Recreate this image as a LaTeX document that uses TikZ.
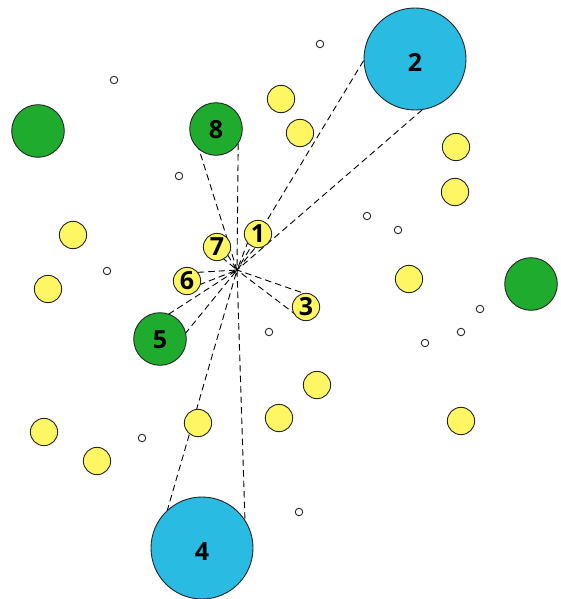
\documentclass[tikz,border=0pt]{standalone}
\usepackage{fontspec}
\setsansfont{Open Sans}
\usepackage{xcolor}
\usepackage{tikz}
\usetikzlibrary{calc,backgrounds}

\definecolor{bubbleblue}{RGB}{42,187,226}
\definecolor{bubblegreen}{RGB}{31,171,46}
\definecolor{bubbleyellow}{RGB}{255,246,100}

\begin{document}
\begin{tikzpicture}[x=1pt,y=-1pt,
    dot/.style={circle,draw=black!85,line width=0.9pt,inner sep=0pt,
        font=\sffamily\bfseries\fontsize{25}{25}\selectfont},
    big/.style={dot,fill=bubbleblue,minimum size=102pt,text height=25pt},
    mid/.style={dot,fill=bubblegreen,minimum size=52.6pt,text height=20pt},
    small/.style={dot,fill=bubbleyellow,minimum size=27.3pt},
    tiny/.style={dot,fill=white,minimum size=7.5pt},
    spoke/.style={dash pattern=on 6.5pt off 4pt,line width=0.9pt}]
    \useasboundingbox (0,0) rectangle (561,599);

    % numbered bubbles
    \node[small] (n1) at (258,234) {1};
    \node[big]   (n2) at (415,59) {2};
    \node[small] (n3) at (306,307) {3};
    \node[big]   (n4) at (202,548) {4};
    \node[mid]   (n5) at (160,339) {5};
    \node[small] (n6) at (187,281) {6};
    \node[small] (n7) at (217,247) {7};
    \node[mid]   (n8) at (216,129) {8};
    \coordinate (hub) at (237,270);

    % other bubbles
    \node[mid] (g1) at (38,131) {};
    \node[mid] (g2) at (531,284) {};

    \node[small] (y1) at (281,99) {};
    \node[small] (y2) at (300,133) {};
    \node[small] (y3) at (456,147) {};
    \node[small] (y4) at (455,192) {};
    \node[small] (y5) at (409,279) {};
    \node[small] (y6) at (461,421) {};
    \node[small] (y7) at (73,235) {};
    \node[small] (y8) at (48,289) {};
    \node[small] (y9) at (44,432) {};
    \node[small] (y10) at (97,461) {};
    \node[small] (y11) at (198,423) {};
    \node[small] (y12) at (279,418) {};
    \node[small] (y13) at (317,385) {};

    \node[tiny] (s1) at (114,80) {};
    \node[tiny] (s2) at (320,44) {};
    \node[tiny] (s3) at (179,176) {};
    \node[tiny] (s4) at (107,271) {};
    \node[tiny] (s5) at (367,216) {};
    \node[tiny] (s6) at (398,230) {};
    \node[tiny] (s7) at (480,309) {};
    \node[tiny] (s8) at (461,332) {};
    \node[tiny] (s9) at (425,343) {};
    \node[tiny] (s10) at (269,332) {};
    \node[tiny] (s11) at (142,438) {};
    \node[tiny] (s12) at (299,512) {};

    % spokes, behind the bubbles (ends hidden under the fill)
    \begin{scope}[on background layer]
    \foreach \n in {1,...,8}
        \draw[spoke] ($(hub)!1!9:(n\n.center)$) -- (hub) -- ($(hub)!1!-9:(n\n.center)$);
    \end{scope}
\end{tikzpicture}
\end{document}
